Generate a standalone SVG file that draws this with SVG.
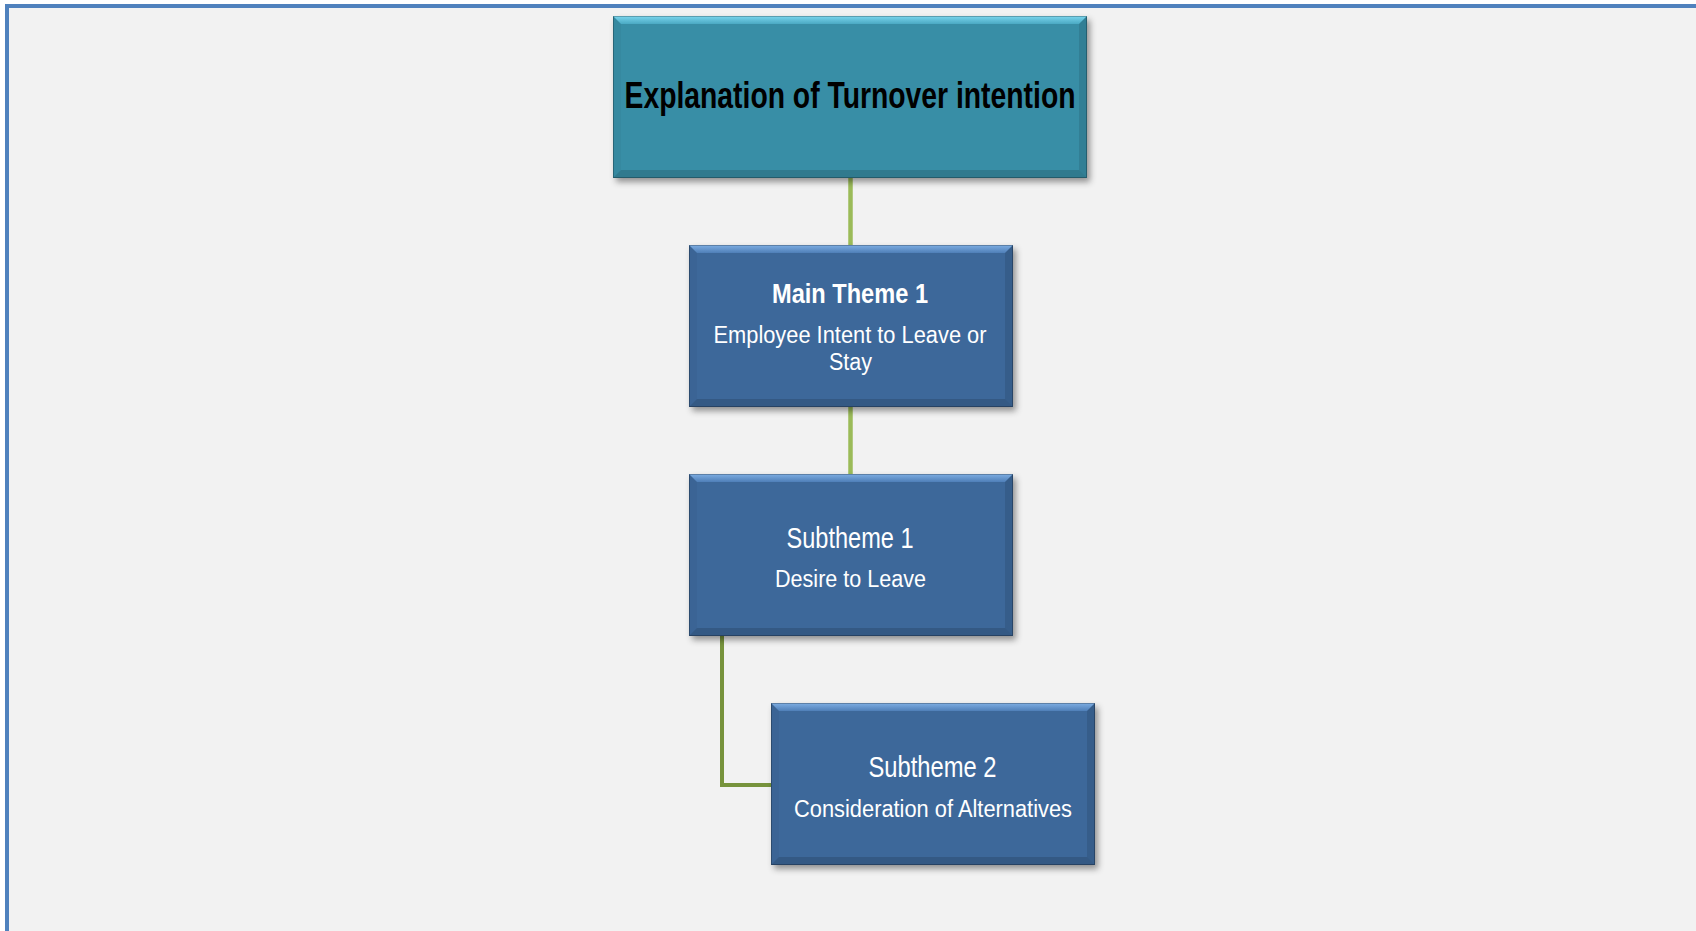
<svg xmlns="http://www.w3.org/2000/svg" width="1696" height="931" viewBox="0 0 1696 931">
<defs>
<filter id="sh" x="-10%" y="-10%" width="120%" height="130%">
<feDropShadow dx="3" dy="4" stdDeviation="3" flood-color="#000" flood-opacity="0.4"/>
</filter>
<linearGradient id="tealTop" x1="0" y1="0" x2="0" y2="1"><stop offset="0" stop-color="#7bd6ee"/><stop offset="1" stop-color="#4aa9c3"/></linearGradient>
<linearGradient id="blueTop" x1="0" y1="0" x2="0" y2="1"><stop offset="0" stop-color="#7eaee3"/><stop offset="1" stop-color="#4f7fb8"/></linearGradient>
<style>
.teal{fill:#388ea6}
.blue{fill:#3d679a}
.lt{fill:#000;opacity:0.03}
.rt{fill:#000;opacity:0.1}
.bt{fill:#000;opacity:0.14}
.edge{fill:none;stroke:#000;stroke-opacity:0.25;stroke-width:1}
.conn{fill:none;stroke:#9bbb59;stroke-width:4.5}
.conn2{fill:none;stroke:#77933c;stroke-width:4}
.t{font-family:"Liberation Sans",Arial,sans-serif;text-anchor:middle}
.w{fill:#fff}
</style>
</defs>
<rect x="0" y="0" width="1696" height="931" fill="#ffffff"/>
<rect x="9" y="8" width="1687" height="923" fill="#f2f2f2"/>
<path d="M5 6 H1696" stroke="#4f81bd" stroke-width="4" fill="none"/>
<path d="M7 4 V931" stroke="#4f81bd" stroke-width="4" fill="none"/>

<g id="connectors">
<path class="conn" d="M850.5 178 V245"/>
<path class="conn" d="M850.5 407 V474"/>
<path class="conn2" d="M722 636 V785 H771"/>
</g>

<g id="node-title">
<g filter="url(#sh)"><rect class="teal" x="613" y="16" width="474" height="162"/></g>
<polygon points="613,16 1087,16 1079,24 621,24" fill="url(#tealTop)"/>
<polygon class="lt" points="613,16 621,24 621,170 613,178"/>
<polygon class="rt" points="1087,16 1079,24 1079,170 1087,178"/>
<polygon class="bt" points="613,178 621,170 1079,170 1087,178"/>
<rect class="edge" x="613.5" y="16.5" width="473" height="161"/>
<text class="t" x="850" y="108" font-size="37" font-weight="bold" fill="#000" textLength="451" lengthAdjust="spacingAndGlyphs">Explanation of Turnover intention</text>
</g>

<g id="node-main">
<g filter="url(#sh)"><rect class="blue" x="689" y="245" width="324" height="162"/></g>
<polygon points="689,245 1013,245 1005,253 697,253" fill="url(#blueTop)"/>
<polygon class="lt" points="689,245 697,253 697,399 689,407"/>
<polygon class="rt" points="1013,245 1005,253 1005,399 1013,407"/>
<polygon class="bt" points="689,407 697,399 1005,399 1013,407"/>
<rect class="edge" x="689.5" y="245.5" width="323" height="161"/>
<text class="t w" x="850" y="303" font-size="27" font-weight="bold" textLength="156" lengthAdjust="spacingAndGlyphs">Main Theme 1</text>
<text class="t w" x="850" y="343" font-size="23" textLength="273" lengthAdjust="spacingAndGlyphs">Employee Intent to Leave or</text>
<text class="t w" x="850.5" y="370" font-size="23" textLength="43" lengthAdjust="spacingAndGlyphs">Stay</text>
</g>

<g id="node-sub1">
<g filter="url(#sh)"><rect class="blue" x="689" y="474" width="324" height="162"/></g>
<polygon points="689,474 1013,474 1005,482 697,482" fill="url(#blueTop)"/>
<polygon class="lt" points="689,474 697,482 697,628 689,636"/>
<polygon class="rt" points="1013,474 1005,482 1005,628 1013,636"/>
<polygon class="bt" points="689,636 697,628 1005,628 1013,636"/>
<rect class="edge" x="689.5" y="474.5" width="323" height="161"/>
<text class="t w" x="850" y="548" font-size="29" textLength="127" lengthAdjust="spacingAndGlyphs">Subtheme 1</text>
<text class="t w" x="850.5" y="587" font-size="23" textLength="151" lengthAdjust="spacingAndGlyphs">Desire to Leave</text>
</g>

<g id="node-sub2">
<g filter="url(#sh)"><rect class="blue" x="771" y="703" width="324" height="162"/></g>
<polygon points="771,703 1095,703 1087,711 779,711" fill="url(#blueTop)"/>
<polygon class="lt" points="771,703 779,711 779,857 771,865"/>
<polygon class="rt" points="1095,703 1087,711 1087,857 1095,865"/>
<polygon class="bt" points="771,865 779,857 1087,857 1095,865"/>
<rect class="edge" x="771.5" y="703.5" width="323" height="161"/>
<text class="t w" x="932.5" y="777" font-size="29" textLength="128" lengthAdjust="spacingAndGlyphs">Subtheme 2</text>
<text class="t w" x="933" y="817" font-size="23" textLength="278" lengthAdjust="spacingAndGlyphs">Consideration of Alternatives</text>
</g>
</svg>
